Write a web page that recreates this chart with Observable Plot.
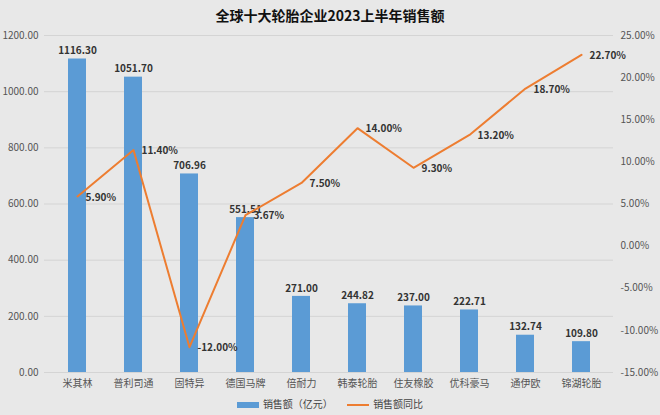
<!DOCTYPE html>
<html>
<head>
<meta charset="utf-8">
<script src="https://cdn.jsdelivr.net/npm/d3@7"></script>
<script src="https://cdn.jsdelivr.net/npm/@observablehq/plot@0.6"></script>
<style>
  body { margin: 0; background: #e8e8e8; }
  #wrap { width: 660px; height: 415px; background: #e8e8e8; font-family: "Noto Sans CJK SC", "Noto Sans", sans-serif; position: relative; }
  #title { height: 25px; line-height: 30px; text-align: center; font-size: 14px; font-weight: bold; color: #111; }
  #legend { position: absolute; left: 0; top: 394px; width: 660px; text-align: center; font-size: 10px; color: #444; }
  #legend span.item { display: inline-block; margin: 0 6px; vertical-align: middle; }
  .sw { display: inline-block; vertical-align: middle; margin-right: 4px; }
</style>
</head>
<body>
<div id="wrap">
  <div id="title">全球十大轮胎企业2023上半年销售额</div>
  <div id="chart"></div>
  <div id="legend">
    <span class="item"><span class="sw" style="width:22px;height:6px;background:#5b9bd5"></span>销售额（亿元）</span>
    <span class="item"><span class="sw" style="width:22px;height:2px;background:#ed7d31"></span>销售额同比</span>
  </div>
</div>
<script>
const companies = ["米其林", "普利司通", "固特异", "德国马牌", "倍耐力", "韩泰轮胎", "住友橡胶", "优科豪马", "通伊欧", "锦湖轮胎"];
const sales = [1116.30, 1051.70, 706.96, 551.51, 271.00, 244.82, 237.00, 222.71, 132.74, 109.80];
const growth = [5.90, 11.40, -12.00, 3.67, 7.50, 14.00, 9.30, 13.20, 18.70, 22.70];
const leftTicks = [0, 200, 400, 600, 800, 1000, 1200];
const rightTicks = [-15, -10, -5, 0, 5, 10, 15, 20, 25];

const pMin = -15, pMax = 25, yMax = 1200;
const toY = p => (p - pMin) / (pMax - pMin) * yMax;
const fromY = v => v / yMax * (pMax - pMin) + pMin;

const data = companies.map((c, i) => ({company: c, sales: sales[i], growth: growth[i], gy: toY(growth[i])}));

const chart = Plot.plot({
  width: 660,
  height: 366,
  marginTop: 10,
  marginBottom: 19,
  marginLeft: 44,
  marginRight: 47,
  style: {background: "transparent", fontFamily: "'Noto Sans CJK SC', 'Noto Sans', sans-serif", fontSize: "10px", color: "#555"},
  x: {domain: companies, paddingInner: 0.68, paddingOuter: 0.34, label: null},
  y: {domain: [0, yMax], label: null},
  marks: [
    Plot.gridY(leftTicks, {stroke: "#d4d4d4", strokeOpacity: 1, strokeWidth: 1}),
    Plot.axisY(leftTicks, {anchor: "left", tickSize: 0, tickPadding: 6, tickFormat: d => d.toFixed(2), label: null, fill: "#555"}),
    Plot.axisY(rightTicks.map(toY), {anchor: "right", tickSize: 0, tickPadding: 7, tickFormat: v => fromY(v).toFixed(2) + "%", label: null, fill: "#555"}),
    Plot.axisX({tickSize: 0, tickPadding: 7, label: null, fill: "#555"}),
    Plot.barY(data, {x: "company", y: "sales", fill: "#5b9bd5"}),
    Plot.ruleY([0], {stroke: "#d4d4d4"}),
    Plot.text(data, {x: "company", y: "sales", text: d => d.sales.toFixed(2), dy: -8, fill: "#333", fontWeight: "bold", fontSize: 10}),
    Plot.line(data, {x: "company", y: "gy", stroke: "#ed7d31", strokeWidth: 2}),
    Plot.text(data, {x: "company", y: "gy", text: d => d.growth.toFixed(2) + "%", dx: 8, dy: 1, textAnchor: "start", fill: "#333", fontWeight: "bold", fontSize: 10})
  ]
});
document.getElementById("chart").appendChild(chart);
</script>
</body>
</html>
